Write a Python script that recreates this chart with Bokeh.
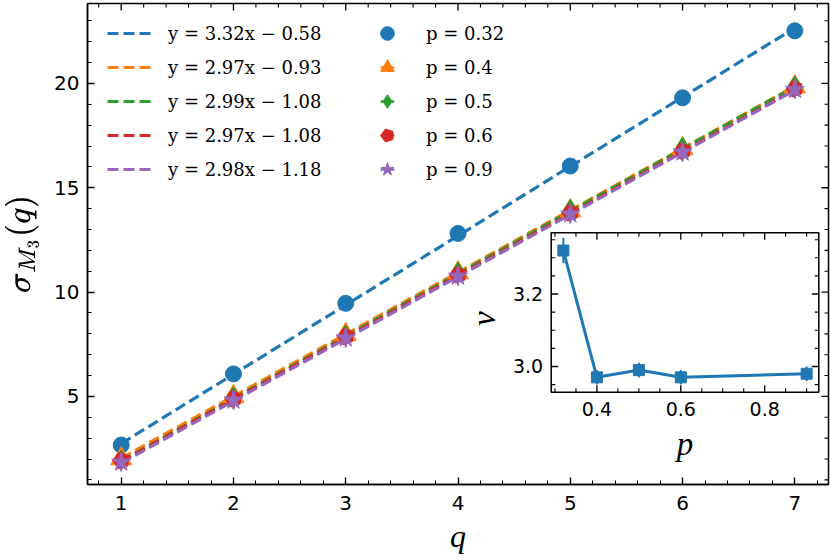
import numpy as np
from bokeh.plotting import figure
from bokeh.models import (Range1d, LinearAxis, SingleIntervalTicker, Legend, LegendItem,
                          ColumnDataSource)
from bokeh.core.properties import value
from bokeh.embed import file_html
from bokeh.resources import INLINE

# ---------------- data ----------------
q = [1, 2, 3, 4, 5, 6, 7]
p_names = ["0.32", "0.4", "0.5", "0.6", "0.9"]
fit_slope = [3.32, 2.97, 2.99, 2.97, 2.98]
fit_icept = [-0.58, -0.93, -1.08, -1.08, -1.18]
sigma_p032 = [2.67, 6.08, 9.46, 12.81, 16.04, 19.31, 22.52]
sigma_p04 = [2.02, 5.00, 7.97, 10.93, 13.90, 16.88, 19.84]
sigma_p05 = [1.96, 4.97, 7.93, 10.95, 13.95, 16.93, 19.88]
sigma_p06 = [1.92, 4.88, 7.87, 10.82, 13.80, 16.76, 19.74]
sigma_p09 = [1.85, 4.82, 7.80, 10.76, 13.74, 16.71, 19.71]
sigma_err = [0.30, 0.45, 0.45, 0.45, 0.45]
p_vals = [0.32, 0.4, 0.5, 0.6, 0.9]
nu = [3.32, 2.97, 2.99, 2.97, 2.98]
nu_err = [0.035, 0.02, 0.02, 0.02, 0.02]

colors = ["#1f77b4", "#ff7f0e", "#2ca02c", "#d62728", "#9467bd"]
markers = ["circle", "triangle", "diamond", "pentagon", "star"]
msizes = [16, 21, 20, 17, 20]
sigmas = [sigma_p032, sigma_p04, sigma_p05, sigma_p06, sigma_p09]

# ---------------- layout constants (page px; the page has no body margin) ----------------
W, H = 830, 560
BL, BR, BT, BB = 87, 2, 3, 76
FX0, FX1 = BL, W - BR
FY0, FY1 = BT, H - BB
XR = (0.7, 7.3)
YR = (0.78, 23.83)

p = figure(width=W, height=H, output_backend="svg", toolbar_location=None,
           x_range=Range1d(*XR), y_range=Range1d(*YR),
           min_border_left=BL, min_border_right=BR, min_border_top=BT,
           min_border_bottom=BB, x_axis_type=None, y_axis_type=None)
p.outline_line_color = "black"
p.outline_line_width = 1.5
p.background_fill_color = "white"
p.border_fill_color = "white"


def style_axis(ax):
    ax.axis_line_width = 1.5
    ax.axis_line_color = "black"
    ax.major_tick_in = 7
    ax.major_tick_out = 0
    ax.minor_tick_in = 4
    ax.minor_tick_out = 0
    ax.major_tick_line_width = 1.3
    ax.minor_tick_line_width = 1.1
    ax.major_tick_line_color = "black"
    ax.minor_tick_line_color = "black"
    ax.major_label_text_font = "DejaVu Sans"
    ax.major_label_text_font_size = "20px"
    ax.major_label_text_color = "black"
    ax.axis_label_text_color = "black"


xb = LinearAxis(ticker=SingleIntervalTicker(interval=1, num_minor_ticks=5))
style_axis(xb)
xb.major_label_standoff = 11
xb.axis_label = "q"
xb.axis_label_text_font = "Liberation Serif"
xb.axis_label_text_font_style = "italic"
xb.axis_label_text_font_size = "32px"
xb.axis_label_standoff = 5
p.add_layout(xb, "below")

yl = LinearAxis(ticker=SingleIntervalTicker(interval=5, num_minor_ticks=5))
style_axis(yl)
yl.major_label_standoff = 8
yl.axis_label = r"$$\sigma_{M_3}(q)$$"
yl.axis_label_text_font_size = "27px"
yl.axis_label_standoff = 12
p.add_layout(yl, "left")

# ticks on the top and right edges (inward), drawn as short segments
kx_main = (XR[1] - XR[0]) / (FX1 - FX0)
ky_main = (YR[1] - YR[0]) / (FY1 - FY0)
x_major_ticks = np.arange(1, 8, 1.0)
x_minor_ticks = np.array([v for v in np.arange(0.8, 7.3, 0.2) if abs(v - round(v)) > 1e-6])
y_major_ticks = np.arange(5, 21, 5.0)
y_minor_ticks = np.array([v for v in np.arange(1, 24, 1.0) if v % 5 != 0])
for vals, L, lw in ((x_major_ticks, 7, 1.3), (x_minor_ticks, 4, 1.1)):
    n = len(vals)
    p.segment(x0=vals, y0=[YR[1]] * n, x1=vals, y1=[YR[1] - L * ky_main] * n,
              line_color="black", line_width=lw)
for vals, L, lw in ((y_major_ticks, 7, 1.3), (y_minor_ticks, 4, 1.1)):
    n = len(vals)
    p.segment(x0=[XR[1]] * n, y0=vals, x1=[XR[1] - L * kx_main] * n, y1=vals,
              line_color="black", line_width=lw)

# ---------------- main data ----------------
qa = np.array(q, dtype=float)
line_renderers = []
for i in range(5):
    fit = fit_slope[i] * qa + fit_icept[i]
    r = p.line(qa, fit, line_color=colors[i], line_width=3.2, line_dash="11 5")
    line_renderers.append(r)

marker_items = []
for i in range(5):
    s = np.array(sigmas[i])
    src = ColumnDataSource(dict(x=qa, y=s, lo=s - sigma_err[i], hi=s + sigma_err[i]))
    p.segment(x0="x", y0="lo", x1="x", y1="hi", source=src,
              line_color=colors[i], line_width=2)
    dash = p.scatter(x="x", y="y", source=src, marker="dash", angle=np.pi / 2,
                     size=24, line_color=colors[i], line_width=2.5, visible=False)
    if markers[i] == "pentagon":
        try:
            mr = p.ngon(x="x", y="y", source=src, radius=msizes[i] / 2,
                        radius_units="screen", n=5, angle=np.pi / 2,
                        fill_color=colors[i], line_color=colors[i])
        except Exception:
            mr = p.scatter(x="x", y="y", source=src, marker="hex", size=msizes[i],
                           fill_color=colors[i], line_color=colors[i])
    else:
        mr = p.scatter(x="x", y="y", source=src, marker=markers[i], size=msizes[i],
                       fill_color=colors[i], line_color=colors[i])
    marker_items.append(LegendItem(label="p = " + p_names[i], renderers=[dash, mr]))

line_items = []
for i in range(5):
    b = fit_icept[i]
    sign = "−" if b < 0 else "+"
    lab = "y = %.2fx %s %.2f" % (fit_slope[i], sign, abs(b))
    line_items.append(LegendItem(label=lab, renderers=[line_renderers[i]]))

# legend: two columns
GH = 34
leg_top = 13
leg_h = 5 * GH
legend = Legend(items=line_items + marker_items, ncols=2, orientation="vertical",
                location=(20, (FY1 - FY0) - leg_top - leg_h),
                glyph_width=44, glyph_height=GH, spacing=0, label_width=197,
                label_standoff=17, padding=0, margin=0,
                label_text_font="DejaVu Serif", label_text_font_size="18px",
                label_text_color="black",
                border_line_color=None, background_fill_alpha=0)
p.add_layout(legend)

# ---------------- inset (drawn inside the main frame) ----------------
IL, IR, IT, IB = 550.7, 818.3, 232.3, 391.7
ix0, ix1 = 0.291, 0.929
iy0, iy1 = 2.929, 3.369
kx = (ix1 - ix0) / (IR - IL)
ky = (iy1 - iy0) / (IB - IT)
p.extra_x_ranges = {"ix": Range1d(ix0 - (IL - FX0) * kx, ix1 + (FX1 - IR) * kx)}
p.extra_y_ranges = {"iy": Range1d(iy0 - (FY1 - IB) * ky, iy1 + (IT - FY0) * ky)}
R = dict(x_range_name="ix", y_range_name="iy")

p.quad(left=[ix0], right=[ix1], bottom=[iy0], top=[iy1], fill_color="white",
       line_color="black", line_width=1.5, **R)

inset_xmaj = [0.4, 0.6, 0.8]
inset_xmin = [0.3, 0.35, 0.45, 0.5, 0.55, 0.65, 0.7, 0.75, 0.85, 0.9]
inset_ymaj = [3.0, 3.2]
inset_ymin = [2.95, 3.05, 3.1, 3.15, 3.25, 3.3, 3.35]
inset_xlabels = ["0.4", "0.6", "0.8"]
inset_ylabels = ["3.0", "3.2"]

for vals, L, lw in ((inset_xmaj, 7, 1.3), (inset_xmin, 4, 1.1)):
    v = np.array(vals)
    n = len(v)
    p.segment(x0=v, y0=[iy0] * n, x1=v, y1=[iy0 + L * ky] * n, line_color="black", line_width=lw, **R)
    p.segment(x0=v, y0=[iy1] * n, x1=v, y1=[iy1 - L * ky] * n, line_color="black", line_width=lw, **R)
for vals, L, lw in ((inset_ymaj, 7, 1.3), (inset_ymin, 4, 1.1)):
    v = np.array(vals)
    n = len(v)
    p.segment(x0=[ix0] * n, y0=v, x1=[ix0 + L * kx] * n, y1=v, line_color="black", line_width=lw, **R)
    p.segment(x0=[ix1] * n, y0=v, x1=[ix1 - L * kx] * n, y1=v, line_color="black", line_width=lw, **R)

p.text(x=inset_xmaj, y=[iy0 - 10 * ky] * 3, text=inset_xlabels, text_align="center",
       text_baseline="top", text_font=value("DejaVu Sans"), text_font_size="19px",
       text_color="black", **R)
p.text(x=[ix0 - 8 * kx] * 2, y=inset_ymaj, text=inset_ylabels, text_align="right",
       text_baseline="middle", text_font=value("DejaVu Sans"), text_font_size="19px",
       text_color="black", **R)
p.text(x=[(ix0 + ix1) / 2], y=[iy0 - 52 * ky], text=["p"], text_align="center",
       text_baseline="middle", text_font=value("Liberation Serif"), text_font_style="italic",
       text_font_size="33px", text_color="black", **R)
p.text(x=[ix0 - 67 * kx], y=[iy1 - 86 * ky], text=["ν"], text_align="center",
       text_baseline="middle", text_font=value("Liberation Serif"), text_font_style="italic",
       text_font_size="33px", text_color="black", angle=np.pi / 2, **R)

isrc = ColumnDataSource(dict(x=p_vals, y=nu, lo=np.array(nu) - np.array(nu_err),
                             hi=np.array(nu) + np.array(nu_err)))
p.line(x="x", y="y", source=isrc, line_color=colors[0], line_width=3, **R)
p.segment(x0="x", y0="lo", x1="x", y1="hi", source=isrc, line_color=colors[0], line_width=2, **R)
p.scatter(x="x", y="y", source=isrc, marker="square", size=11, fill_color=colors[0],
          line_color=colors[0], **R)

open("out.html", "w").write(file_html(p, INLINE))
